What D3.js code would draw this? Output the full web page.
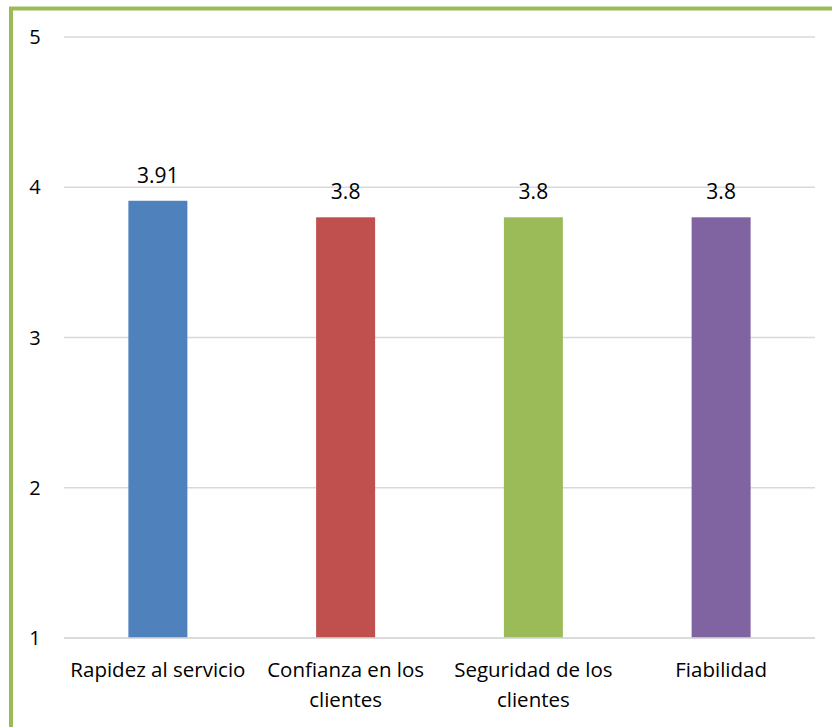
<!DOCTYPE html>
<html>
<head>
<meta charset="utf-8">
<script src="https://cdn.jsdelivr.net/npm/d3@7/dist/d3.min.js"></script>
<style>
  html, body { margin: 0; padding: 0; background: #fff; }
  svg { display: block; }
  text { font-family: "Open Sans", "Liberation Sans", sans-serif; fill: #000; }
</style>
</head>
<body>
<svg id="chart" width="832" height="727"></svg>
<script>
const categories = [["Rapidez al servicio"], ["Confianza en los", "clientes"], ["Seguridad de los", "clientes"], ["Fiabilidad"]];
const values = [3.91, 3.8, 3.8, 3.8];
const valueLabels = ["3.91", "3.8", "3.8", "3.8"];
const colors = ["#4F81BD", "#C0504D", "#9BBB59", "#8064A2"];
const yTicks = [1, 2, 3, 4, 5];

const svg = d3.select("#chart");
const W = 832, H = 727;

// frame (green, left and top only visible)
svg.append("line").attr("x1", 11).attr("x2", 11).attr("y1", 7).attr("y2", H)
  .attr("stroke", "#9BBB59").attr("stroke-width", 4);
svg.append("line").attr("x1", 9).attr("x2", W).attr("y1", 8.5).attr("y2", 8.5)
  .attr("stroke", "#9BBB59").attr("stroke-width", 4);

const x = d3.scaleBand().domain(d3.range(categories.length)).range([64, 815]).paddingInner(0).paddingOuter(0);
const y = d3.scaleLinear().domain([1, 5]).range([638, 37]);

// gridlines
svg.append("g").selectAll("line").data(yTicks).join("line")
  .attr("x1", 64).attr("x2", 815)
  .attr("y1", d => y(d)).attr("y2", d => y(d))
  .attr("stroke", "#D9D9D9").attr("stroke-width", 1.5);

// y tick labels
svg.append("g").selectAll("text").data(yTicks).join("text")
  .attr("x", 35).attr("y", d => y(d)).attr("dy", "0.36em")
  .attr("text-anchor", "middle").attr("font-size", 20)
  .text(d => d);

const barW = 59;
svg.append("g").selectAll("rect").data(values).join("rect")
  .attr("x", (d, i) => x(i) + x.bandwidth() / 2 - barW / 2)
  .attr("width", barW)
  .attr("y", d => y(d))
  .attr("height", d => y(1) - y(d))
  .attr("fill", (d, i) => colors[i]);

// redraw baseline over bars
svg.append("line").attr("x1", 64).attr("x2", 815).attr("y1", y(1)).attr("y2", y(1))
  .attr("stroke", "#D9D9D9").attr("stroke-width", 1.5);

// value labels
svg.append("g").selectAll("text").data(values).join("text")
  .attr("x", (d, i) => x(i) + x.bandwidth() / 2)
  .attr("y", d => y(d) - 18)
  .attr("text-anchor", "middle").attr("font-size", 21)
  .text((d, i) => valueLabels[i]);

// category labels
const cat = svg.append("g").selectAll("text").data(categories).join("text")
  .attr("x", (d, i) => x(i) + x.bandwidth() / 2)
  .attr("y", 677)
  .attr("text-anchor", "middle").attr("font-size", 20.5);
cat.selectAll("tspan").data(d => d).join("tspan")
  .attr("x", function() { return d3.select(this.parentNode).attr("x"); })
  .attr("dy", (d, j) => j === 0 ? 0 : 30)
  .text(d => d);
</script>
</body>
</html>
